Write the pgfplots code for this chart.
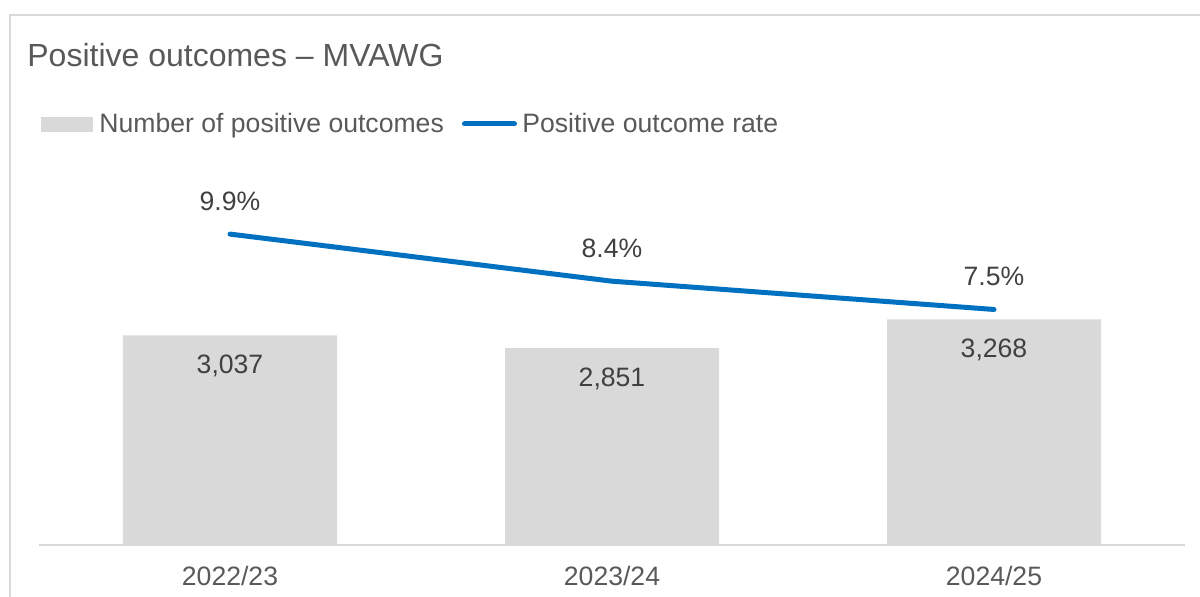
\documentclass[border=0pt]{standalone}
\usepackage{fontspec}
\setmainfont{Liberation Sans}
\usepackage{pgfplots}
\pgfplotsset{compat=1.18}
\definecolor{barc}{HTML}{D9D9D9}
\definecolor{ratec}{HTML}{0070C0}
\definecolor{txt}{HTML}{595959}
\definecolor{lbl}{HTML}{404040}
\definecolor{framec}{HTML}{D9D9D9}
\newcommand{\lblfont}{\fontsize{13.3}{16}\selectfont}
\pgfplotsset{
  base/.style={at={(19.5pt,26pt)}, anchor=south west, scale only axis,
    width=573pt, height=192.5pt, xmin=-0.5, xmax=2.5, ymin=0, clip=false,
    /pgf/number format/assume math mode=true}
}
\begin{document}
\begin{tikzpicture}
\useasboundingbox (0,0) rectangle (600pt,298.5pt);
% chart frame (cut at the right and bottom)
\draw[framec, line width=0.75pt] (5pt,0) -- (5pt,291pt) -- (600pt,291pt);
% title
\node[anchor=base west, inner sep=0pt, text=txt, font=\fontsize{16}{19}\selectfont]
  at (13.5pt,265pt) {Positive outcomes – MVAWG};
% legend
\fill[barc] (20.5pt,232.5pt) rectangle (46.5pt,240pt);
\node[anchor=base west, inner sep=0pt, text=txt, font=\lblfont] at (49.5pt,232pt) {Number of positive outcomes};
\draw[ratec, line width=2.5pt, line cap=round] (232.25pt,236.5pt) -- (257.25pt,236.5pt);
\node[anchor=base west, inner sep=0pt, text=txt, font=\lblfont] at (261pt,232pt) {Positive outcome rate};

\begin{axis}[base, ymax=5577,
  axis line style={draw=none}, major tick length=0pt, ytick=\empty,
  xtick={0,1,2}, xticklabels={2022/23,2023/24,2024/25},
  xticklabel style={font=\lblfont, text=txt, anchor=base, yshift=-20.5pt}]
\addplot[ybar, bar width=107pt, fill=barc, draw=none,
  nodes near coords={\pgfmathprintnumber[1000 sep={,}]{\pgfplotspointmeta}},
  every node near coord/.append style={font=\lblfont, text=lbl, anchor=base, yshift=-19pt}]
  coordinates {(0,3037) (1,2851) (2,3268)};
\draw[framec, line width=1pt] (rel axis cs:0,0) -- (rel axis cs:1,0);
\end{axis}

\begin{axis}[base, ymax=12.26, hide axis]
\addplot[ratec, line width=2.5pt, line cap=round, line join=round, mark=none,
  nodes near coords={\pgfmathprintnumber[fixed,precision=1,fixed zerofill]{\pgfplotspointmeta}\%},
  every node near coord/.append style={font=\lblfont, text=lbl, anchor=base, yshift=12pt}]
  coordinates {(0,9.9) (1,8.4) (2,7.5)};
\end{axis}
\end{tikzpicture}
\end{document}
